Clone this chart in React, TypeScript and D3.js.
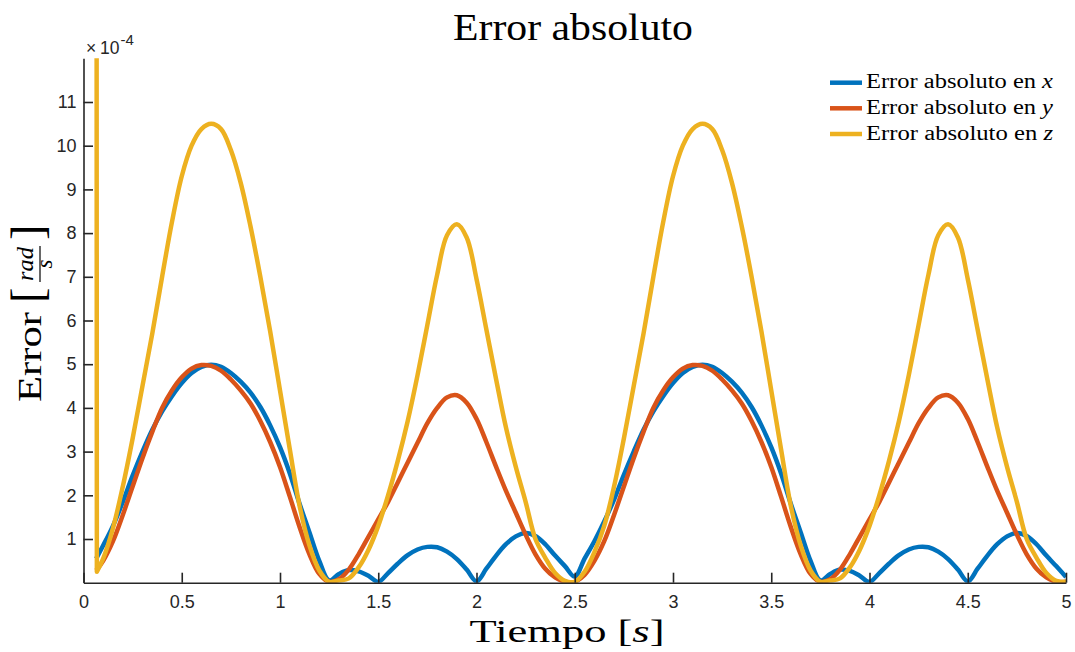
import React, { useEffect, useRef } from "react";
import * as d3 from "d3";

// tiempo [s]
const tiempo = [
  0.064, 0.068, 0.1, 0.15, 0.2, 0.25, 0.3, 0.35, 0.4, 0.45, 0.5, 0.55, 0.6, 0.65, 0.7, 0.75, 0.8, 0.85, 0.9, 0.95, 1,
  1.05, 1.1, 1.15, 1.2, 1.25, 1.3, 1.35, 1.4, 1.45, 1.5, 1.55, 1.6, 1.65, 1.7, 1.75, 1.8, 1.85, 1.9, 1.95, 2,
  2.05, 2.1, 2.15, 2.2, 2.25, 2.3, 2.35, 2.4, 2.45, 2.5, 2.55, 2.6, 2.65, 2.7, 2.75, 2.8, 2.85, 2.9, 2.95, 3,
  3.05, 3.1, 3.15, 3.2, 3.25, 3.3, 3.35, 3.4, 3.45, 3.5, 3.55, 3.6, 3.65, 3.7, 3.75, 3.8, 3.85, 3.9, 3.95, 4,
  4.05, 4.1, 4.15, 4.2, 4.25, 4.3, 4.35, 4.4, 4.45, 4.5, 4.55, 4.6, 4.65, 4.7, 4.75, 4.8, 4.85, 4.9, 4.95, 5,
];

// errores (x 10^-4)
const errorX = [
  0.55, 0.58, 0.85, 1.3, 1.85, 2.45, 3.0, 3.5, 3.92, 4.27, 4.57, 4.8, 4.94, 4.99, 4.94, 4.8, 4.6, 4.35, 4.02, 3.6, 3.1,
  2.5, 1.8, 1.15, 0.5, 0.05, 0.2, 0.29, 0.26, 0.16, 0.02, 0.22, 0.44, 0.63, 0.76, 0.82, 0.81, 0.71, 0.54, 0.3, 0.03,
  0.32, 0.62, 0.88, 1.06, 1.14, 1.07, 0.88, 0.62, 0.38, 0.14, 0.55, 0.95, 1.4, 1.9, 2.47, 3.0, 3.5, 3.92, 4.27, 4.57,
  4.8, 4.94, 4.99, 4.94, 4.8, 4.6, 4.35, 4.02, 3.6, 3.1, 2.5, 1.8, 1.15, 0.5, 0.05, 0.2, 0.3, 0.27, 0.16, 0.02,
  0.22, 0.44, 0.63, 0.76, 0.82, 0.81, 0.71, 0.54, 0.3, 0.03, 0.32, 0.62, 0.88, 1.06, 1.14, 1.07, 0.88, 0.62, 0.38, 0.13,
];

const errorY = [
  0.28, 0.3, 0.5, 0.95, 1.55, 2.2, 2.85, 3.45, 4.0, 4.4, 4.7, 4.9, 4.98, 4.96, 4.85, 4.65, 4.4, 4.1, 3.7, 3.22, 2.65,
  1.97, 1.27, 0.65, 0.2, 0.02, 0.08, 0.3, 0.65, 1.05, 1.45, 1.85, 2.3, 2.75, 3.2, 3.65, 4.0, 4.24, 4.29, 4.12, 3.75,
  3.22, 2.65, 2.1, 1.6, 1.1, 0.65, 0.32, 0.12, 0.02, 0.02, 0.18, 0.5, 0.95, 1.55, 2.2, 2.85, 3.45, 4.0, 4.4, 4.7,
  4.9, 4.98, 4.96, 4.85, 4.65, 4.4, 4.1, 3.7, 3.22, 2.65, 1.97, 1.27, 0.65, 0.2, 0.02, 0.08, 0.3, 0.65, 1.05, 1.45,
  1.85, 2.3, 2.75, 3.2, 3.65, 4.0, 4.24, 4.29, 4.12, 3.75, 3.22, 2.65, 2.1, 1.6, 1.1, 0.65, 0.32, 0.12, 0.02, 0.02,
];

const errorZ = [
  40, 0.25, 0.55, 1.25, 2.2, 3.3, 4.5, 5.7, 7.0, 8.25, 9.3, 10.0, 10.38, 10.5, 10.38, 9.9, 9.15, 8.15, 7.0, 5.75, 4.4,
  3.05, 1.75, 0.85, 0.28, 0.02, 0.05, 0.1, 0.35, 0.75, 1.3, 2.0, 2.8, 3.7, 4.75, 5.9, 7.05, 7.95, 8.2, 7.9, 6.95,
  5.8, 4.65, 3.55, 2.65, 1.85, 1.0, 0.57, 0.22, 0.04, 0.02, 0.25, 0.7, 1.3, 2.2, 3.3, 4.5, 5.7, 7.0, 8.25, 9.3,
  10.0, 10.38, 10.5, 10.38, 9.9, 9.15, 8.15, 7.0, 5.75, 4.4, 3.05, 1.75, 0.85, 0.28, 0.02, 0.05, 0.1, 0.35, 0.75, 1.3,
  2.0, 2.8, 3.7, 4.75, 5.9, 7.05, 7.95, 8.2, 7.9, 6.95, 5.8, 4.65, 3.55, 2.65, 1.85, 1.0, 0.57, 0.22, 0.04, 0.02,
];

const ticksX = [0, 0.5, 1, 1.5, 2, 2.5, 3, 3.5, 4, 4.5, 5];
const ticksY = [1, 2, 3, 4, 5, 6, 7, 8, 9, 10, 11];
const variables = ["x", "y", "z"];
const colores = ["#0072BD", "#D95319", "#EDB120"];

const W = 1075;
const H = 652;
const left = 83.5, right = 1066, top = 58.3, bottom = 582.7;
const serif = "'Liberation Serif', 'Times New Roman', serif";
const sans = "'Liberation Sans', Arial, sans-serif";
const gris = "#262626";

const App = () => {
  const ref = useRef<SVGSVGElement>(null);

  useEffect(() => {
    const svg = d3.select(ref.current);
    svg.selectAll("*").remove();

    const x = d3.scaleLinear().domain([0, 5]).range([left, right]);
    const y = d3.scaleLinear().domain([0, 12]).range([bottom, top]);

    svg.append("rect").attr("width", W).attr("height", H).attr("fill", "#fff");

    svg.append("defs").append("clipPath").attr("id", "zona")
      .append("rect")
      .attr("x", left).attr("y", top)
      .attr("width", right - left).attr("height", bottom - top);

    // primer tramo recto (arranque), el resto suavizado
    const recta = d3.line<[number, number]>()
      .x((d) => x(d[0]))
      .y((d) => y(d[1]));
    const suave = d3.line<[number, number]>()
      .x((d) => x(d[0]))
      .y((d) => y(d[1]))
      .curve(d3.curveCatmullRom.alpha(0.5));

    const curvas = svg.append("g").attr("clip-path", "url(#zona)");
    [errorX, errorY, errorZ].forEach((serie, k) => {
      const puntos = serie.map((v, i) => [tiempo[i], v] as [number, number]);
      const d = (recta(puntos.slice(0, 2)) || "") + (suave(puntos.slice(1)) || "").replace(/^M/, "L");
      curvas.append("path")
        .attr("fill", "none")
        .attr("stroke", colores[k])
        .attr("stroke-width", 4.5)
        .attr("stroke-linejoin", "round")
        .attr("d", d);
    });

    // ejes
    const ejeX = svg.append("g")
      .attr("transform", `translate(0,${bottom})`)
      .call(d3.axisBottom(x).tickValues(ticksX).tickFormat((d) => String(d))
        .tickSizeInner(-10).tickSizeOuter(0).tickPadding(13));

    const ejeY = svg.append("g")
      .attr("transform", `translate(${left},0)`)
      .call(d3.axisLeft(y).tickValues(ticksY).tickFormat((d) => String(d))
        .tickSizeInner(-9.5).tickSizeOuter(0).tickPadding(7));

    [ejeX, ejeY].forEach((eje) => {
      eje.attr("font-family", sans).attr("font-size", 18);
      eje.select(".domain").attr("stroke", gris).attr("stroke-width", 1.6);
      eje.selectAll(".tick line").attr("stroke", gris).attr("stroke-width", 1.6);
      eje.selectAll(".tick text").attr("fill", gris);
    });

    // exponente
    const exp = svg.append("text")
      .attr("y", 54)
      .attr("font-family", sans).attr("font-size", 17.5).attr("fill", gris);
    exp.append("tspan").attr("x", 86).text("×");
    exp.append("tspan").attr("x", 100).text("10");
    exp.append("tspan").attr("x", 120.5).attr("font-size", 15).attr("dy", -9).text("-4");

    // titulo
    svg.append("text")
      .attr("x", 573).attr("y", 40)
      .attr("text-anchor", "middle")
      .attr("font-family", serif).attr("font-size", 37)
      .attr("textLength", 240).attr("lengthAdjust", "spacingAndGlyphs")
      .text("Error absoluto");

    // etiqueta x
    const tx = svg.append("text")
      .attr("x", 567).attr("y", 642)
      .attr("text-anchor", "middle")
      .attr("font-family", serif).attr("font-size", 32)
      .attr("textLength", 195).attr("lengthAdjust", "spacingAndGlyphs");
    tx.append("tspan").text("Tiempo [");
    tx.append("tspan").attr("font-style", "italic").text("s");
    tx.append("tspan").text("]");

    // etiqueta y
    const ty = svg.append("g")
      .attr("transform", "translate(41,402) rotate(-90)")
      .attr("font-family", serif);
    ty.append("text").attr("x", 0).attr("y", 0).attr("font-size", 34)
      .attr("textLength", 90).attr("lengthAdjust", "spacingAndGlyphs")
      .text("Error");
    ty.append("text").attr("x", 99).attr("y", 2).attr("font-size", 46)
      .text("[");
    ty.append("text").attr("x", 162).attr("y", 2).attr("font-size", 46)
      .text("]");
    ty.append("text").attr("x", 138).attr("y", -8).attr("font-size", 23)
      .attr("font-style", "italic").attr("text-anchor", "middle")
      .attr("textLength", 34).attr("lengthAdjust", "spacingAndGlyphs")
      .text("rad");
    ty.append("line").attr("x1", 120).attr("x2", 156).attr("y1", -1).attr("y2", -1)
      .attr("stroke", "#000").attr("stroke-width", 1.2);
    ty.append("text").attr("x", 138).attr("y", 11).attr("font-size", 23)
      .attr("font-style", "italic").attr("text-anchor", "middle")
      .text("s");

    // leyenda
    const filas = [82.7, 108.3, 134];
    variables.forEach((v, k) => {
      const ly = filas[k];
      svg.append("line")
        .attr("x1", 830).attr("x2", 862).attr("y1", ly).attr("y2", ly)
        .attr("stroke", colores[k]).attr("stroke-width", 4.5);
      const t = svg.append("text")
        .attr("x", 866).attr("y", ly + 5.7)
        .attr("font-family", serif).attr("font-size", 20.5)
        .attr("textLength", 187).attr("lengthAdjust", "spacingAndGlyphs");
      t.append("tspan").text("Error absoluto en ");
      t.append("tspan").attr("font-style", "italic").text(v);
    });
  }, []);

  return (
    <svg ref={ref} width={W} height={H} style={{ position: "absolute", left: 0, top: 0 }} />
  );
};

export default App;
